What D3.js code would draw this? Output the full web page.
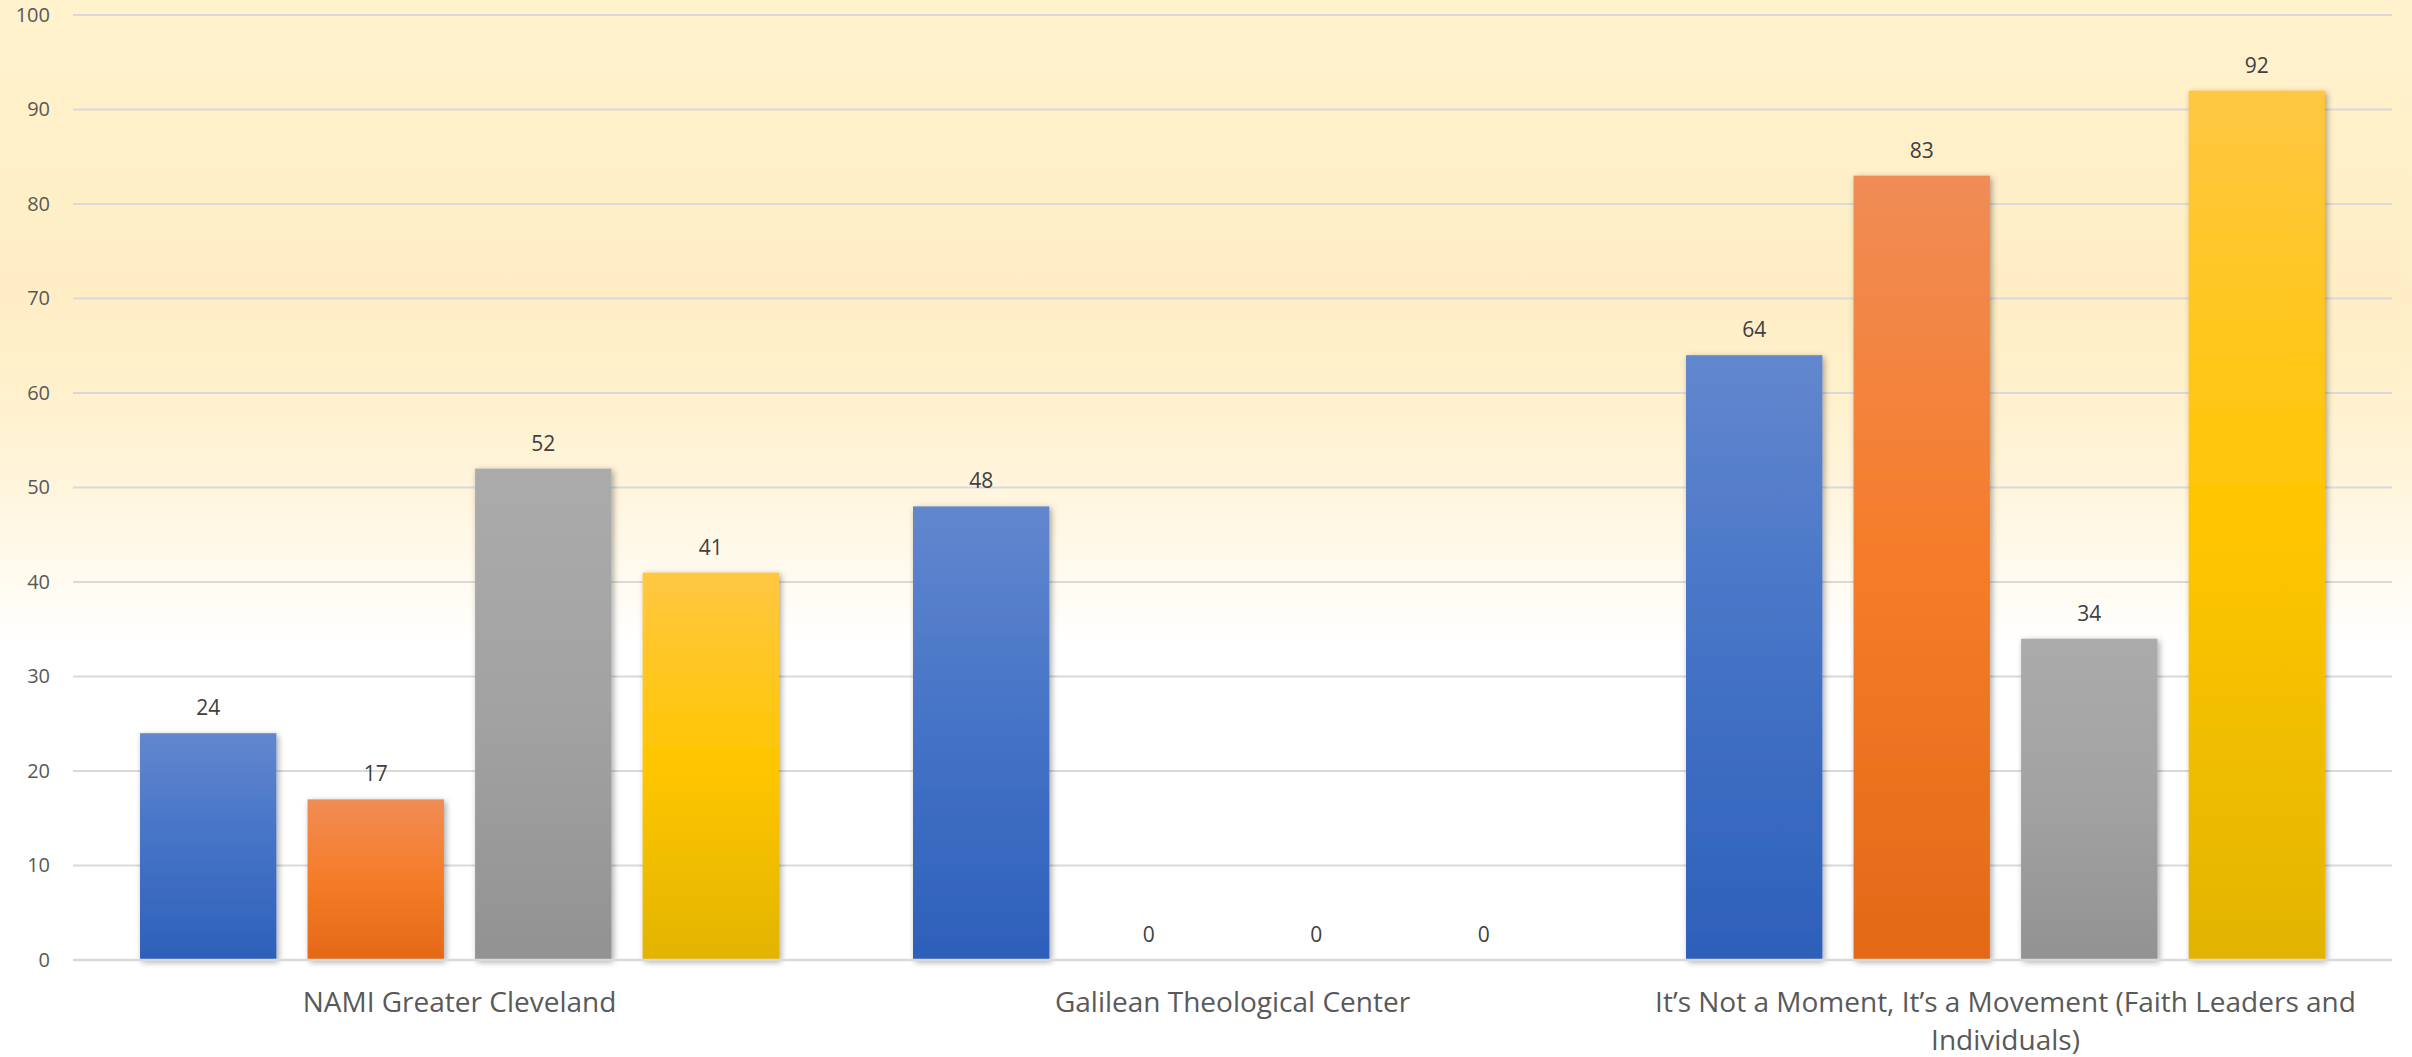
<!DOCTYPE html>
<html>
<head>
<meta charset="utf-8">
<script src="https://cdn.jsdelivr.net/npm/d3@7/dist/d3.min.js"></script>
<style>
  html, body { margin: 0; padding: 0; background: #ffffff; }
  svg { display: block; }
  text { font-family: "Open Sans", "DejaVu Sans", sans-serif; }
</style>
</head>
<body>
<svg id="chart" width="2412" height="1057"></svg>
<script>
// ---- data ----
const categories = [
  "NAMI Greater Cleveland",
  "Galilean Theological Center",
  "It\u2019s Not a Moment, It\u2019s a Movement (Faith Leaders and Individuals)"
];
const seriesNames = ["Series 1", "Series 2", "Series 3", "Series 4"];
const series1 = [24, 48, 64];
const series2 = [17, 0, 83];
const series3 = [52, 0, 34];
const series4 = [41, 0, 92];
const yTicks = [0, 10, 20, 30, 40, 50, 60, 70, 80, 90, 100];

const seriesValues = [series1, series2, series3, series4];
const seriesGradients = [
  [["0%", "#6287ce"], ["50%", "#4472c6"], ["100%", "#2d60ba"]],
  [["0%", "#f08c56"], ["50%", "#f57c28"], ["100%", "#e36917"]],
  [["0%", "#ababab"], ["50%", "#a2a2a2"], ["100%", "#929292"]],
  [["0%", "#ffc742"], ["50%", "#ffc600"], ["100%", "#e2b400"]]
];

const W = 2412, H = 1057;
const margin = { left: 73, right: 20, top: 15, bottom: 97 };
const plotRight = W - margin.right;
const plotBottom = H - margin.bottom;

const svg = d3.select("#chart");
const defs = svg.append("defs");

// background gradient
const bg = defs.append("linearGradient").attr("id", "bgGrad")
  .attr("x1", 0).attr("y1", 0).attr("x2", 0).attr("y2", 1);
[["0%", "#fff2cd"], ["28%", "#ffeec5"], ["37%", "#fff1cd"], ["46%", "#fff5dc"],
 ["55%", "#fffbf1"], ["61%", "#ffffff"], ["100%", "#ffffff"]]
  .forEach(([o, c]) => bg.append("stop").attr("offset", o).attr("stop-color", c));
svg.append("rect").attr("width", W).attr("height", H).attr("fill", "url(#bgGrad)");

// bar gradients
seriesGradients.forEach((stops, i) => {
  const g = defs.append("linearGradient").attr("id", "barGrad" + i)
    .attr("x1", 0).attr("y1", 0).attr("x2", 0).attr("y2", 1);
  stops.forEach(([o, c]) => g.append("stop").attr("offset", o).attr("stop-color", c));
});

// shadow
const f = defs.append("filter").attr("id", "shadow")
  .attr("x", "-20%").attr("y", "-20%").attr("width", "140%").attr("height", "140%");
f.append("feDropShadow").attr("dx", 2).attr("dy", 2).attr("stdDeviation", 3)
  .attr("flood-color", "#000").attr("flood-opacity", 0.35);

// scales
const y = d3.scaleLinear().domain([0, 100]).range([plotBottom, margin.top]);
const x0 = d3.scaleBand().domain(categories).range([margin.left, plotRight])
  .paddingInner(0).paddingOuter(0);
const x1 = d3.scaleBand().domain(d3.range(seriesNames.length)).range([0, x0.bandwidth()])
  .paddingInner(0.186).paddingOuter(0.4);

// gridlines
const grid = svg.append("g").attr("class", "grid");
grid.selectAll("line").data(yTicks.filter(t => t !== 0)).enter().append("line")
  .attr("x1", margin.left).attr("x2", plotRight)
  .attr("y1", d => y(d)).attr("y2", d => y(d))
  .attr("stroke", "#d9d9d9").attr("stroke-width", 2);

// y axis labels
const yAxis = d3.axisLeft(y).tickValues(yTicks).tickSize(0).tickPadding(0);
const yg = svg.append("g").attr("transform", `translate(${margin.left - 23},0)`).call(yAxis);
yg.select(".domain").remove();
yg.selectAll("text")
  .attr("font-family", "'Open Sans', sans-serif")
  .attr("font-size", 20).attr("fill", "#595959");

// bars
const groups = svg.append("g").selectAll("g").data(categories).enter().append("g")
  .attr("transform", d => `translate(${x0(d)},0)`);

groups.each(function (cat, ci) {
  const g = d3.select(this);
  const vals = seriesValues.map((s, si) => ({ si, v: s[ci] }));
  g.selectAll("rect").data(vals.filter(d => d.v > 0)).enter().append("rect")
    .attr("x", d => x1(d.si))
    .attr("y", d => y(d.v))
    .attr("width", x1.bandwidth())
    .attr("height", d => y(0) - y(d.v))
    .attr("fill", d => `url(#barGrad${d.si})`)
    .attr("filter", "url(#shadow)");
});

// zero axis line
svg.append("line")
  .attr("x1", margin.left).attr("x2", plotRight)
  .attr("y1", y(0)).attr("y2", y(0))
  .attr("stroke", "#d9d9d9").attr("stroke-width", 2.5);

// value labels
groups.each(function (cat, ci) {
  const g = d3.select(this);
  const vals = seriesValues.map((s, si) => ({ si, v: s[ci] }));
  g.selectAll("text.val").data(vals).enter().append("text")
    .attr("class", "val")
    .attr("x", d => x1(d.si) + x1.bandwidth() / 2)
    .attr("y", d => y(d.v) - 18)
    .attr("text-anchor", "middle")
    .attr("font-size", 21)
    .attr("fill", "#404040")
    .text(d => d.v);
});

// category labels with wrapping
function wrap(textSel, width) {
  textSel.each(function () {
    const text = d3.select(this);
    const words = text.text().split(/\s+/);
    const xPos = text.attr("x");
    const lineHeight = 38;
    text.text(null);
    let line = [];
    let tspan = text.append("tspan").attr("x", xPos).attr("dy", 0);
    let lineNo = 0;
    words.forEach(w => {
      line.push(w);
      tspan.text(line.join(" "));
      if (tspan.node().getComputedTextLength() > width && line.length > 1) {
        line.pop();
        tspan.text(line.join(" "));
        line = [w];
        lineNo++;
        tspan = text.append("tspan").attr("x", xPos).attr("dy", lineHeight).text(w);
      }
    });
  });
}

svg.append("g").selectAll("text").data(categories).enter().append("text")
  .attr("x", d => x0(d) + x0.bandwidth() / 2)
  .attr("y", plotBottom + 52)
  .attr("text-anchor", "middle")
  .attr("font-size", 28)
  .attr("fill", "#595959")
  .text(d => d)
  .call(wrap, x0.bandwidth());
</script>
</body>
</html>
